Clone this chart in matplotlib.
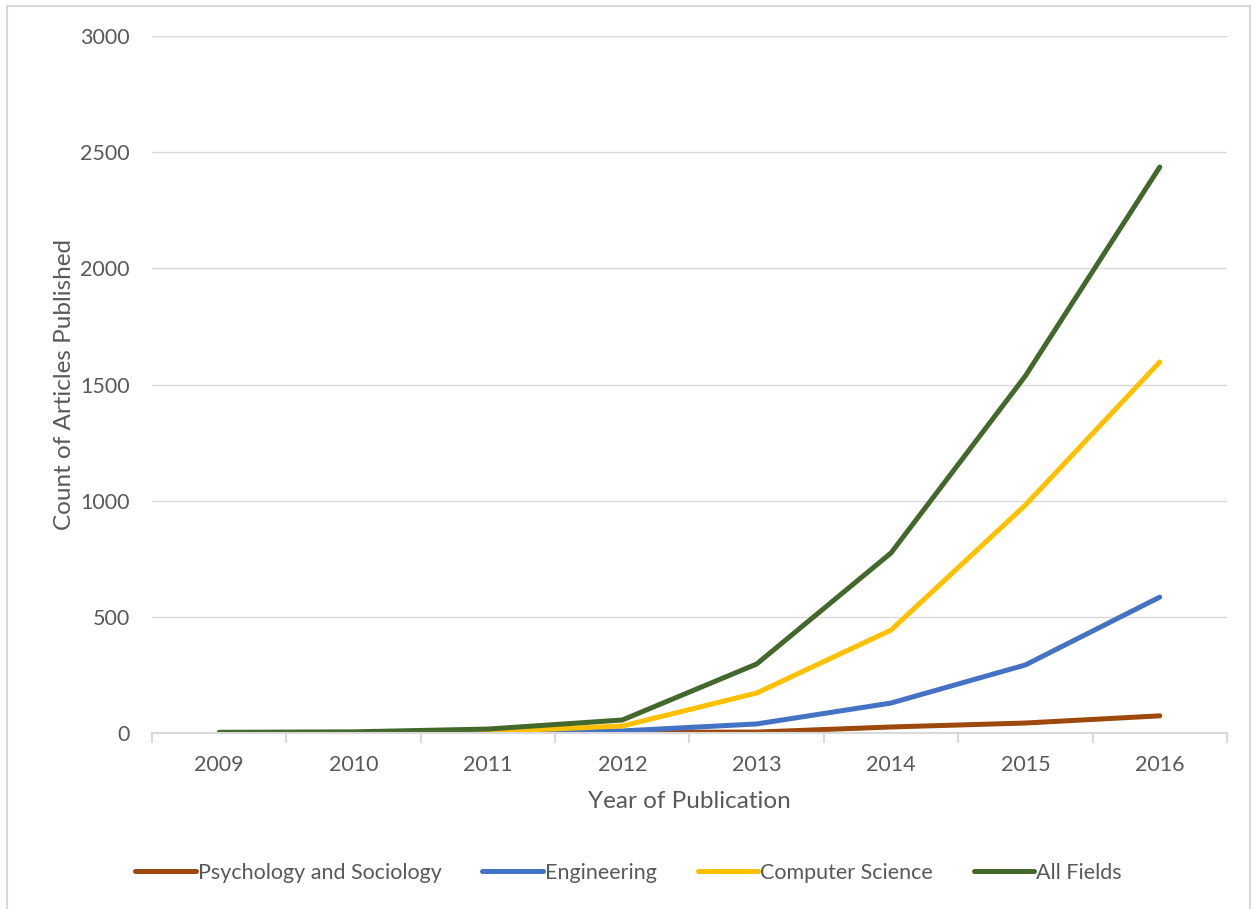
import matplotlib
matplotlib.use("Agg")
import matplotlib.pyplot as plt
from matplotlib.patches import Rectangle

# --- DATA ---
years = ["2009", "2010", "2011", "2012", "2013", "2014", "2015", "2016"]
psych = [0, 0, 1, 3, 4, 26, 43, 74]
engineering = [0, 1, 3, 9, 39, 129, 293, 585]
comp_sci = [1, 2, 6, 30, 172, 443, 981, 1597]
all_fields = [3, 5, 17, 56, 297, 775, 1537, 2436]

series = [
    ("Psychology and Sociology", psych, "#9E480E"),
    ("Engineering", engineering, "#4472C4"),
    ("Computer Science", comp_sci, "#FFC000"),
    ("All Fields", all_fields, "#43682B"),
]

plt.rcParams['font.family'] = ['Lato', 'DejaVu Sans']
TEXT = "#595959"

fig = plt.figure(figsize=(12.57, 9.09), dpi=100)
ax = fig.add_axes([0.1209, 0.1936, 0.8552, 0.7668])

x = list(range(len(years)))
for name, vals, col in series:
    ax.plot(x, vals, color=col, linewidth=3.6, label=name, solid_capstyle='round')

ax.set_xlim(-0.5, len(years) - 0.5)
ax.set_ylim(0, 3000)
ax.set_yticks(range(0, 3001, 500))
ax.grid(axis='y', color="#D9D9D9", linewidth=1)
ax.set_axisbelow(True)

ax.set_xticks(x)
ax.set_xticklabels(years)
ax.set_xticks([i - 0.5 for i in range(len(years) + 1)], minor=True)
ax.tick_params(axis='x', which='major', length=0, pad=16, labelsize=15.5, labelcolor=TEXT)
ax.tick_params(axis='x', which='minor', length=7, color="#D9D9D9", width=1.5)
ax.tick_params(axis='y', length=0, pad=16, labelsize=15.5, labelcolor=TEXT)

for s in ['top', 'right', 'left']:
    ax.spines[s].set_visible(False)
ax.spines['bottom'].set_color("#D9D9D9")
ax.spines['bottom'].set_linewidth(1.5)

ax.set_xlabel("Year of Publication", fontsize=17.5, color=TEXT, labelpad=11)
ax.set_ylabel("Count of Articles Published", fontsize=17.5, color=TEXT, labelpad=4)

fig.legend(loc='center', bbox_to_anchor=(0.5, 1 - 873 / 909), ncol=4, frameon=False,
           fontsize=15.5, labelcolor=TEXT, handlelength=2.8, handletextpad=0.1,
           columnspacing=1.9)

# chart border
fig.patches.append(Rectangle((7 / 1257, -0.01), 1243 / 1257, 1 - 6 / 909 + 0.01,
                             transform=fig.transFigure, fill=False,
                             edgecolor="#D9D9D9", linewidth=1.5))

fig.savefig("out.png", dpi=100)
